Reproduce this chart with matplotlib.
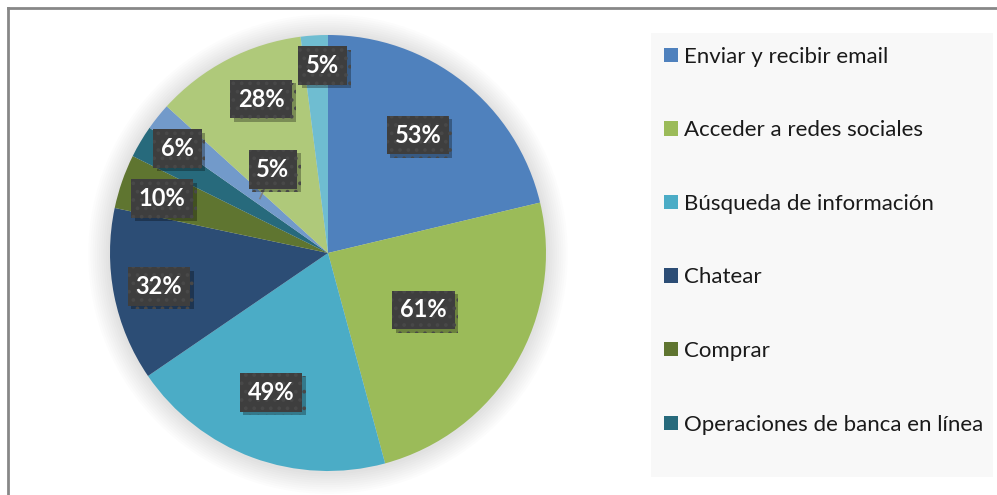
import matplotlib
matplotlib.use("Agg")
import matplotlib.pyplot as plt
import matplotlib.patheffects as pe
from matplotlib.patches import Rectangle, Circle
from matplotlib.lines import Line2D
import numpy as np

# data
categories = ["Enviar y recibir email", "Acceder a redes sociales",
              "Búsqueda de información", "Chatear", "Comprar",
              "Operaciones de banca en línea", "", "", ""]
values = [53, 61, 49, 32, 10, 6, 5, 28, 5]
labels = ["53%", "61%", "49%", "32%", "10%", "6%", "5%", "28%", "5%"]
colors = ["#4F81BD", "#9BBB59", "#4BACC6", "#2C4D75", "#5F7530",
          "#276A7C", "#729ACA", "#AFC97A", "#6FBDD1"]

# label placement (radial distance, angle shift in degrees, clockwise)
label_dist = [0.68, 0.51, 0.69, 0.79, 0.80, 0.84, 0.46, 0.77, 0.86]
label_shift = [-1, 0, 2, 0, -1, 4, 18, 4, 2]

plt.rcParams['font.family'] = ['Lato', 'DejaVu Sans']
plt.rcParams['hatch.linewidth'] = 1.5

fig = plt.figure(figsize=(9.97, 4.95), dpi=100)

# outer chart border (top and left visible)
fig.add_artist(Line2D([8/997, 1.0], [1 - 8/495, 1 - 8/495], color="#878787", lw=2))
fig.add_artist(Line2D([8/997, 8/997], [0.0, 1 - 8/495], color="#878787", lw=2))

cx, cy, r = 328, 495 - 253, 218
ax = fig.add_axes([(cx - r) / 997, (cy - r) / 495, 2 * r / 997, 2 * r / 495])
ax.axis("off")

wedges, _ = ax.pie(values, colors=colors, startangle=90, counterclock=False,
                   radius=1.0, wedgeprops=dict(linewidth=0), frame=False)
for w in wedges:
    w.set_zorder(2)
ax.set_xlim(-1, 1)
ax.set_ylim(-1, 1)
ax.set_aspect("equal")

# soft shadow round the pie
for k in range(10):
    ax.add_patch(Circle((0.0, -0.005), 1.0 + 0.01 * (k + 1), color="#000000",
                        alpha=0.012, lw=0, zorder=0, clip_on=False))

total = sum(values)
start = 0.0
for i, v in enumerate(values):
    mid = start + v / total * 360 / 2
    start += v / total * 360
    ang = np.deg2rad(90 - (mid + label_shift[i]))
    x, y = label_dist[i] * np.cos(ang), label_dist[i] * np.sin(ang)
    t = ax.text(x, y, labels[i], ha="center", va="center", color="white",
                fontsize=17, fontweight="bold", zorder=5,
                bbox=dict(boxstyle="square,pad=0.33", facecolor="#3E3E3E",
                          edgecolor="#484848", linewidth=0, hatch=".."))
    t.get_bbox_patch().set_path_effects([
        pe.SimplePatchShadow(offset=(2.5, -2.5), shadow_rgbFace="#000000", alpha=0.3),
        pe.Normal()])
    if i == 6:
        a2 = np.deg2rad(90 - mid)
        ax.plot([x - 0.04, 0.40 * np.cos(a2)], [y - 0.09, 0.40 * np.sin(a2)],
                color="#7f7f7f", lw=1.2, zorder=4)

# legend background
fig.add_artist(Rectangle((651/997, 1 - 477/495), (993 - 651)/997, (477 - 33)/495,
                         transform=fig.transFigure, facecolor="#F8F8F8",
                         edgecolor="none", zorder=0))

leg = fig.legend(wedges[:6], categories[:6], loc="upper left",
                 bbox_to_anchor=(646/997, 1 - 29/495), frameon=False,
                 fontsize=16, handlelength=0.62, handleheight=0.62,
                 handletextpad=0.3, labelspacing=2.41, borderpad=0.3)
for txt in leg.get_texts():
    txt.set_color("#1a1a1a")

fig.savefig("out.png", dpi=100)
